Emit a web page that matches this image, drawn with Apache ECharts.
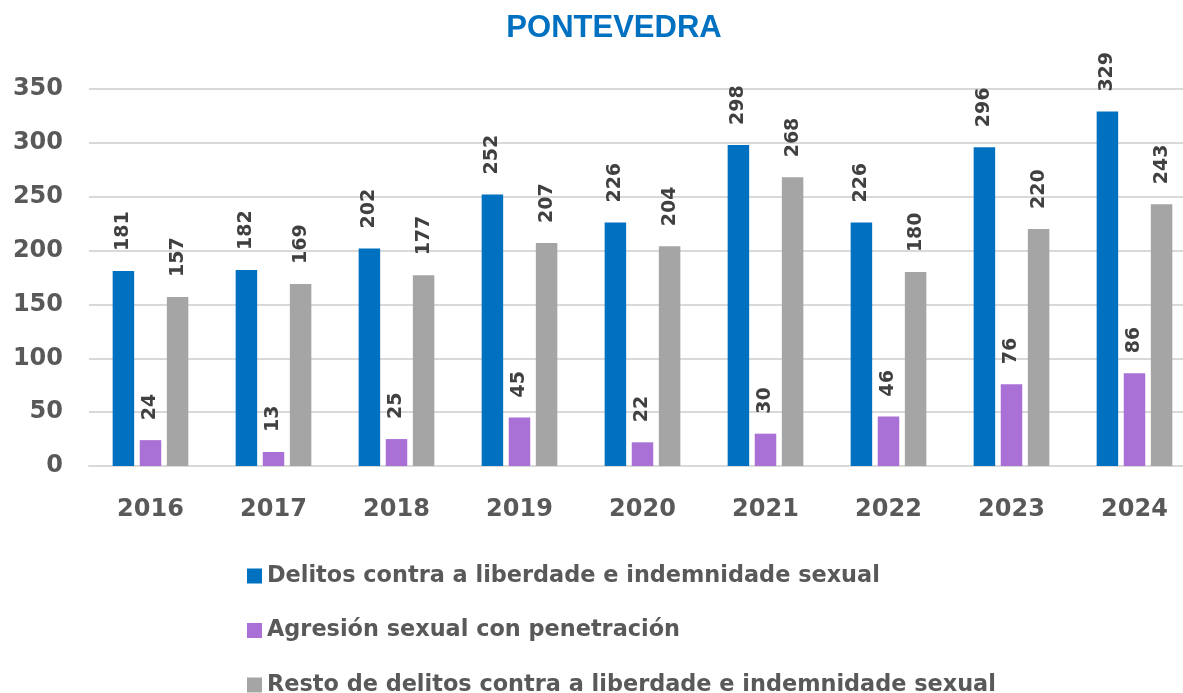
<!DOCTYPE html>
<html>
<head>
<meta charset="utf-8">
<script src="https://cdn.jsdelivr.net/npm/echarts@6/dist/echarts.min.js"></script>
<style>
  html, body { margin: 0; padding: 0; background: #fff; }
  #chart { width: 1183px; height: 693px; }
</style>
</head>
<body>
<div id="chart"></div>
<script>
// datos
const years = ['2016', '2017', '2018', '2019', '2020', '2021', '2022', '2023', '2024'];
const delitos = [181, 182, 202, 252, 226, 298, 226, 296, 329];
const agresion = [24, 13, 25, 45, 22, 30, 46, 76, 86];
const resto = [157, 169, 177, 207, 204, 268, 180, 220, 243];
const seriesNames = [
  'Delitos contra a liberdade e indemnidade sexual',
  'Agresión sexual con penetración',
  'Resto de delitos contra a liberdade e indemnidade sexual'
];
const colors = ['#0070C0', '#A970D6', '#A5A5A5'];

const labelStyle = {
  show: true,
  position: 'top',
  rotate: 90,
  align: 'left',
  verticalAlign: 'middle',
  distance: 20,
  color: '#404040',
  fontSize: 19,
  fontWeight: 'bold',
  fontFamily: 'DejaVu Sans'
};

const chart = echarts.init(document.getElementById('chart'));
chart.setOption({
  animation: false,
  textStyle: { fontFamily: 'DejaVu Sans' },
  color: colors,
  title: {
    text: 'PONTEVEDRA',
    left: 609,
    textAlign: 'center',
    top: 8,
    textStyle: { color: '#0070C0', fontSize: 31, fontWeight: 'bold', fontFamily: 'Liberation Sans' }
  },
  legend: {
    orient: 'vertical',
    left: 247,
    top: 565,
    padding: 0,
    height: 300,
    itemWidth: 15,
    itemHeight: 15,
    itemGap: 32.5,
    icon: 'rect',
    textStyle: { color: '#595959', fontSize: 22.4, fontWeight: 'bold', fontFamily: 'DejaVu Sans' },
    data: seriesNames
  },
  grid: {
    left: 89,
    top: 89,
    width: 1107,
    height: 377,
    outerBoundsMode: 'none'
  },
  xAxis: {
    type: 'category',
    data: years,
    axisLine: { lineStyle: { color: '#D9D9D9', width: 2 } },
    axisTick: { show: false },
    axisLabel: { color: '#595959', fontSize: 24, fontWeight: 'bold', margin: 32 }
  },
  yAxis: {
    type: 'value',
    min: 0,
    max: 350,
    interval: 50,
    axisLine: { show: false },
    axisTick: { show: false },
    splitLine: { lineStyle: { color: '#D9D9D9', width: 2 } },
    axisLabel: { color: '#595959', fontSize: 24, fontWeight: 'bold', margin: 26 }
  },
  series: [
    { name: seriesNames[0], type: 'bar', data: delitos, barWidth: 21.5, barGap: '26%', label: labelStyle },
    { name: seriesNames[1], type: 'bar', data: agresion, barWidth: 21.5, barGap: '26%', label: labelStyle },
    { name: seriesNames[2], type: 'bar', data: resto, barWidth: 21.5, barGap: '26%', label: labelStyle }
  ]
});
</script>
</body>
</html>
